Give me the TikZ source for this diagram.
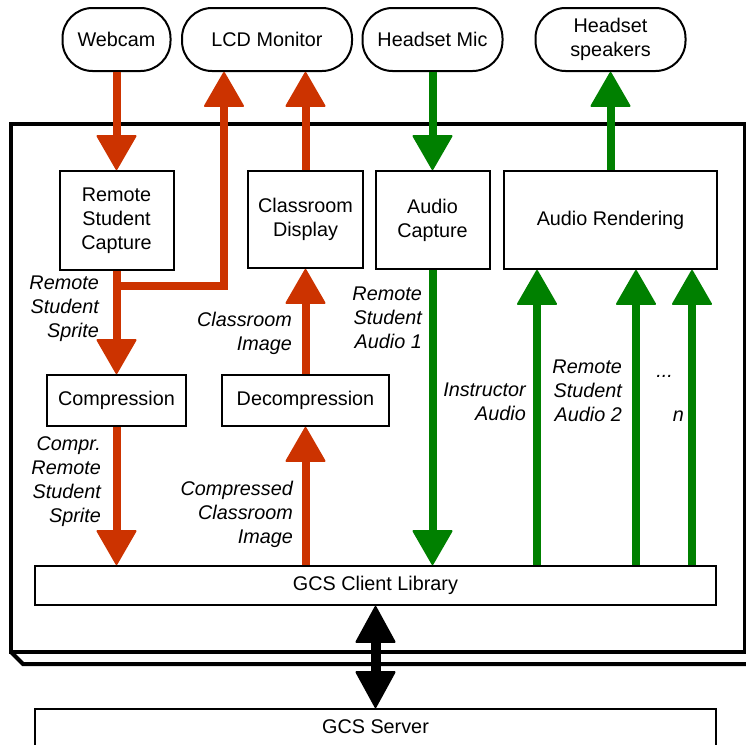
\documentclass[tikz,border=0pt]{standalone}
\usepackage{fontspec}
\setmainfont{Liberation Sans}
\usetikzlibrary{arrows.meta,calc}
\definecolor{ared}{RGB}{204,51,0}
\definecolor{agreen}{RGB}{0,128,0}
\begin{document}
\begin{tikzpicture}[x=1pt,y=-1pt,
  box/.style={draw,line width=2pt,fill=white,inner sep=0pt,align=center,font=\fontsize{19.8}{24}\selectfont},
  pill/.style={box,rounded corners=30pt,minimum height=63pt},
  lbl/.style={font=\fontsize{19.8}{24}\selectfont\itshape,align=right,inner sep=0pt,anchor=north east},
  redarrow/.style={draw=ared,line width=8pt,-{Triangle[width=41pt,length=36pt,round,line width=2pt]},ared},
  greenarrow/.style={draw=agreen,line width=8pt,-{Triangle[width=41pt,length=36pt,round,line width=2pt]},agreen},
  blackarrow/.style={draw=black,line width=10pt,{Triangle[width=41pt,length=38pt,round,line width=2pt]}-{Triangle[width=41pt,length=38pt,round,line width=2pt]}},
  bigbox/.style={line width=4pt}
]
\useasboundingbox (0,0) rectangle (746,744);
% outer frame
\draw[bigbox] (11,123.5) rectangle (744.5,652);
\draw[bigbox] (11,652) -- (23,664) -- (760,664);
% top devices
\node[pill,minimum width=108pt] (webcam) at (116.5,39.5) {Webcam};
\node[pill,minimum width=170pt] (lcd) at (267,39.5) {LCD Monitor};
\node[pill,minimum width=140pt] (mic) at (432.5,39.5) {Headset Mic};
\node[pill,minimum width=150pt] (spk) at (610.5,39.5) {Headset\\speakers};
% inner boxes
\node[box,minimum width=114pt,minimum height=99pt] (rsc) at (116.5,220.5) {Remote\\Student\\Capture};
\node[box,minimum width=115pt,minimum height=97pt] (cdisp) at (305.5,219.5) {Classroom\\Display};
\node[box,minimum width=114pt,minimum height=98pt] (acap) at (432.5,220) {Audio\\Capture};
\node[box,minimum width=213pt,minimum height=98pt] (arend) at (610.5,220) {Audio Rendering};
\node[box,minimum width=139pt,minimum height=51pt] (comp) at (116.5,400.5) {Compression};
\node[box,minimum width=167pt,minimum height=51pt] (decomp) at (305.5,400.5) {Decompression};
\node[box,minimum width=681pt,minimum height=39pt] (gcsc) at (375.5,585.5) {GCS Client Library};
\node[box,minimum width=681pt,anchor=north,text height=24pt,text depth=50pt] (gcss) at (375.5,708) {GCS Server};
% helper coordinates
\coordinate (lcdj) at (224,286);
\coordinate (x1) at (537,0);
\coordinate (x2) at (636,0);
\coordinate (x3) at (692,0);
% red arrows
\draw[redarrow] (webcam) -- (rsc);
\draw[redarrow] (rsc.south) |- (lcdj) -- (lcdj |- lcd.south);
\draw[redarrow] (rsc) -- (comp);
\draw[redarrow] (cdisp) -- (cdisp.north |- lcd.south);
\draw[redarrow] (decomp) -- (cdisp);
\draw[redarrow] (decomp.south |- gcsc.north) -- (decomp);
\draw[redarrow] (comp) -- (comp.south |- gcsc.north);
% green arrows
\draw[greenarrow] (mic) -- (acap);
\draw[greenarrow] (arend) -- (spk);
\draw[greenarrow] (acap) -- (acap.south |- gcsc.north);
\draw[greenarrow] (gcsc.north -| x1) -- (arend.south -| x1);
\draw[greenarrow] (gcsc.north -| x2) -- (arend.south -| x2);
\draw[greenarrow] (gcsc.north -| x3) -- (arend.south -| x3);
% black double arrow
\draw[blackarrow] (gcsc) -- (gcss);
% labels
\node[lbl] (l1) at (99,275.5) {Remote\\Student\\Sprite};
\node[lbl] (l2) at (292,311.5) {Classroom\\Image};
\node[lbl] (l3) at (101,436.6) {Compr.\\Remote\\Student\\Sprite};
\node[lbl] (l4) at (293,480.6) {Compressed\\Classroom\\Image};
\node[lbl] (l5) at (422,286.6) {Remote\\Student\\Audio 1};
\node[lbl] (l6) at (526,382.6) {Instructor\\Audio};
\node[lbl] (l7) at (622,359.6) {Remote\\Student\\Audio 2};
\node[lbl,anchor=base east] (l8) at (673,377) {...};
\node[lbl,anchor=base east] (l9) at (684,421) {n};
\end{tikzpicture}
\end{document}
